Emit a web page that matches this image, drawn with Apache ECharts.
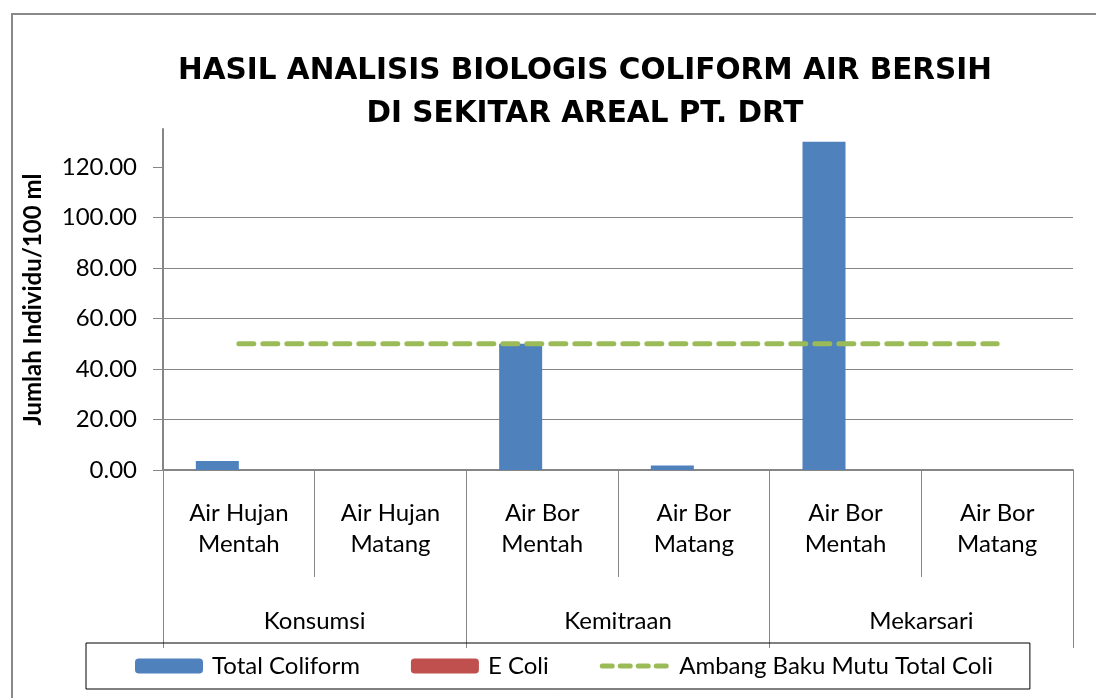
<!DOCTYPE html>
<html>
<head>
<meta charset="utf-8">
<script src="https://cdn.jsdelivr.net/npm/echarts@6/dist/echarts.min.js"></script>
<style>
  html, body { margin: 0; padding: 0; background: #fff; }
  #chart { width: 1096px; height: 698px; }
</style>
</head>
<body>
<div id="chart"></div>
<script>
// data
const sampleTypes = ['Air Hujan\nMentah', 'Air Hujan\nMatang', 'Air Bor\nMentah', 'Air Bor\nMatang', 'Air Bor\nMentah', 'Air Bor\nMatang'];
const locations = ['Konsumsi', 'Kemitraan', 'Mekarsari'];
const totalColiform = [3.6, 0, 50, 1.8, 130, 0];
const eColi = [0, 0, 0, 0, 0, 0];
const ambangBaku = [50, 50, 50, 50, 50, 50];
const yTicks = [0, 20, 40, 60, 80, 100, 120];

const axisGray = '#868686';
const green = '#9BBB59';
const labelFont = { fontFamily: 'Lato', fontSize: 24, color: '#000' };

const chart = echarts.init(document.getElementById('chart'));
chart.setOption({
  animation: false,
  title: {
    text: 'HASIL ANALISIS BIOLOGIS COLIFORM AIR BERSIH\nDI SEKITAR AREAL PT. DRT',
    left: 580,
    top: 45,
    textAlign: 'center',
    textStyle: {
      fontFamily: 'DejaVu Sans',
      fontWeight: 'bold',
      fontSize: 29.5,
      lineHeight: 43,
      color: '#000'
    }
  },
  graphic: [{
    type: 'rect',
    shape: { x: 12, y: 14, width: 1200, height: 800 },
    style: { fill: null, stroke: '#898989', lineWidth: 2 },
    silent: true
  }],
  legend: {
    left: 86,
    top: 643,
    padding: [11, 37, 11, 49],
    borderColor: '#000',
    borderWidth: 1,
    itemGap: 51,
    itemWidth: 68,
    itemHeight: 15,
    textStyle: Object.assign({ padding: [0, 0, 0, 4] }, labelFont),
    data: [
      'Total Coliform',
      'E Coli',
      {
        name: 'Ambang Baku Mutu Total Coli',
        itemStyle: { opacity: 0 },
        lineStyle: { color: green, width: 5, type: [10, 8], cap: 'round' }
      }
    ]
  },
  grid: { left: 163, right: 23, top: 129, bottom: 228 },
  xAxis: [{
    type: 'category',
    data: sampleTypes,
    position: 'bottom',
    axisLine: { show: true, lineStyle: { color: axisGray, width: 2 } },
    axisTick: { show: true, length: 107, lineStyle: { color: axisGray, width: 1 } },
    axisLabel: Object.assign({ margin: 28, lineHeight: 31, interval: 0 }, labelFont)
  }, {
    type: 'category',
    data: locations,
    position: 'bottom',
    axisLine: { show: false },
    axisTick: { show: true, length: 178, lineStyle: { color: axisGray, width: 1 } },
    axisLabel: Object.assign({ margin: 139, interval: 0 }, labelFont)
  }],
  yAxis: {
    type: 'value',
    min: 0,
    max: 135,
    interval: 20,
    name: 'Jumlah Individu/100 ml',
    nameLocation: 'middle',
    nameGap: 118,
    nameTextStyle: { fontFamily: 'Lato', fontWeight: 'bold', fontSize: 24, color: '#000' },
    axisLine: { show: true, lineStyle: { color: axisGray, width: 2 } },
    axisTick: { show: true, length: 10, customValues: yTicks, lineStyle: { color: axisGray } },
    axisLabel: Object.assign({ margin: 26, customValues: yTicks, formatter: v => v.toFixed(2) }, labelFont),
    splitLine: { show: true, showMaxLine: false, lineStyle: { color: axisGray, width: 1 } }
  },
  series: [{
    name: 'Total Coliform',
    type: 'bar',
    data: totalColiform,
    barWidth: 43,
    barGap: '0%',
    itemStyle: { color: '#4F81BD' }
  }, {
    name: 'E Coli',
    type: 'bar',
    data: eColi,
    barWidth: 43,
    itemStyle: { color: '#C0504D' }
  }, {
    name: 'Ambang Baku Mutu Total Coli',
    type: 'line',
    data: ambangBaku,
    symbol: 'none',
    itemStyle: { color: green },
    lineStyle: { color: green, width: 5, type: [15, 9], cap: 'round' },
    z: 5
  }]
});
window.addEventListener('resize', chart.resize);
</script>
</body>
</html>
